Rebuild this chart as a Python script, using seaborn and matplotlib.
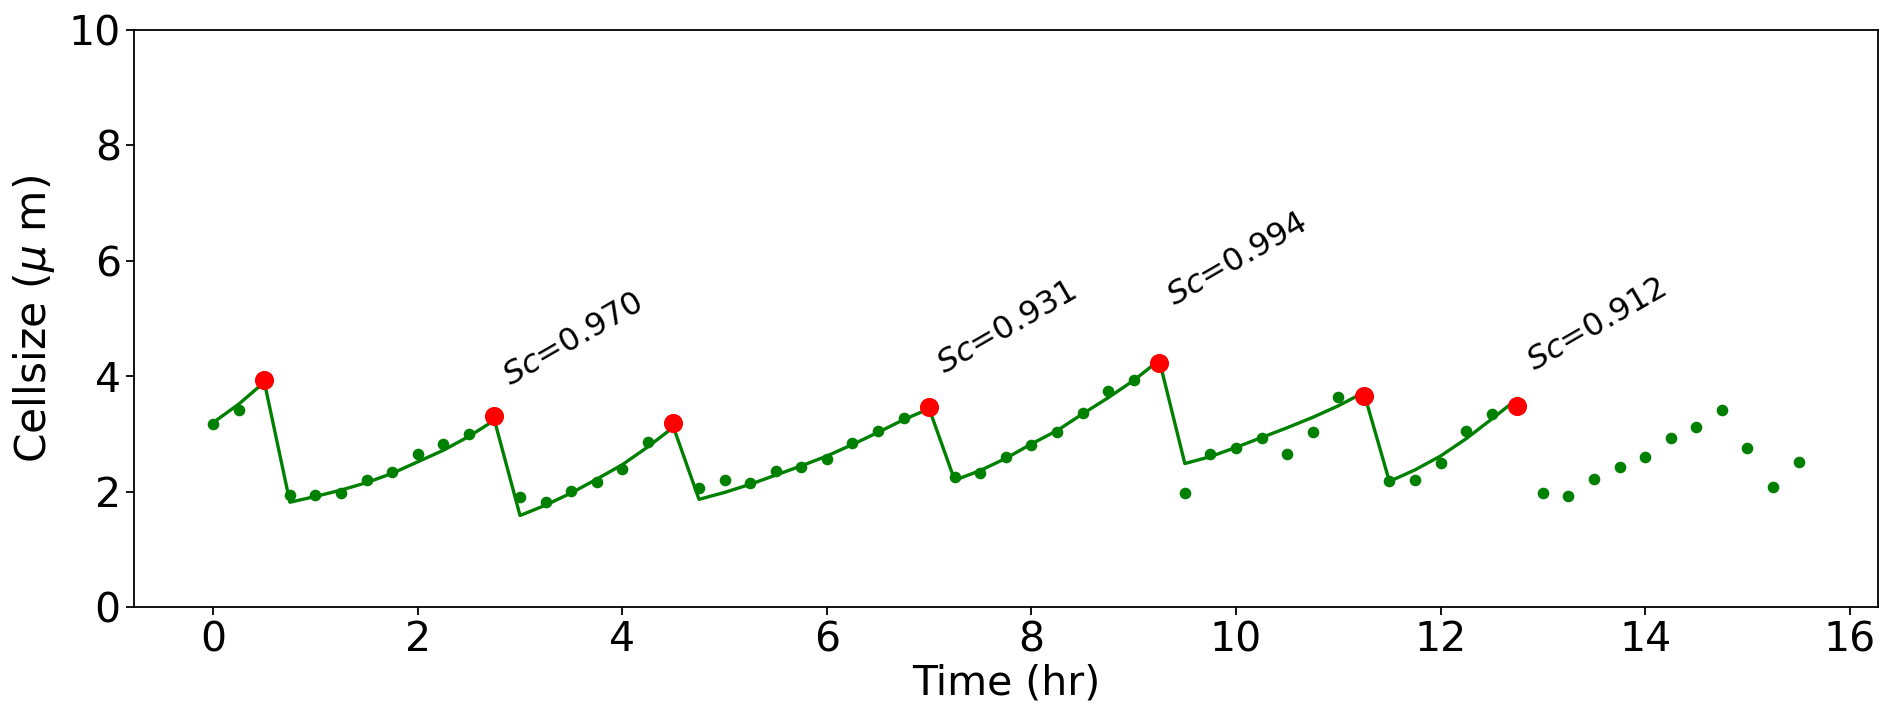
import matplotlib
matplotlib.use("Agg")
import matplotlib.pyplot as plt
import seaborn as sns
import pandas as pd

# measured cell size every 15 min (hr)
time_pts = [0.00, 0.25, 0.50, 0.75, 1.00, 1.25, 1.50, 1.75, 2.00, 2.25, 2.50, 2.75,
            3.00, 3.25, 3.50, 3.75, 4.00, 4.25, 4.50, 4.75, 5.00, 5.25, 5.50, 5.75,
            6.00, 6.25, 6.50, 6.75, 7.00, 7.25, 7.50, 7.75, 8.00, 8.25, 8.50, 8.75,
            9.00, 9.25, 9.50, 9.75, 10.00, 10.25, 10.50, 10.75, 11.00, 11.25, 11.50, 11.75,
            12.00, 12.25, 12.50, 12.75, 13.00, 13.25, 13.50, 13.75, 14.00, 14.25, 14.50, 14.75,
            15.00, 15.25, 15.50]
cell_size = [3.18, 3.42, 3.94, 1.94, 1.95, 1.98, 2.20, 2.35, 2.66, 2.82, 3.00, 3.32,
             1.91, 1.82, 2.01, 2.17, 2.40, 2.86, 3.19, 2.06, 2.21, 2.15, 2.36, 2.43,
             2.57, 2.84, 3.06, 3.28, 3.47, 2.25, 2.32, 2.60, 2.81, 3.04, 3.37, 3.75,
             3.94, 4.23, 1.98, 2.66, 2.76, 2.94, 2.66, 3.04, 3.64, 3.66, 2.18, 2.21,
             2.50, 3.06, 3.35, 3.49, 1.98, 1.93, 2.23, 2.43, 2.61, 2.94, 3.12, 3.42,
             2.76, 2.08, 2.51]

# exponential fit per cycle, evaluated on the same time grid (0 .. 12.75)
fit_size = [3.20, 3.52, 3.90,
            1.82, 1.92, 2.03, 2.16, 2.32, 2.52, 2.72, 2.96, 3.24,
            1.59, 1.77, 1.98, 2.22, 2.47, 2.78, 3.12,
            1.87, 1.99, 2.13, 2.29, 2.45, 2.62, 2.82, 3.03, 3.25, 3.44,
            2.20, 2.37, 2.58, 2.83, 3.06, 3.35, 3.63, 3.93, 4.28,
            2.49, 2.61, 2.77, 2.94, 3.11, 3.29, 3.49, 3.72,
            2.18, 2.38, 2.62, 2.92, 3.26, 3.61]

# division events
div_time = [0.5, 2.75, 4.5, 7.0, 9.25, 11.25, 12.75]
div_size = [3.94, 3.32, 3.19, 3.47, 4.23, 3.66, 3.49]

# Sc labels
sc_vals = ["0.970", "0.931", "0.994", "0.912"]
sc_x = [2.78, 7.03, 9.28, 12.80]
sc_y = [3.73, 3.93, 5.11, 3.98]

df = pd.DataFrame({"Time": time_pts, "Size": cell_size})
df_fit = pd.DataFrame({"Time": time_pts[:len(fit_size)], "Size": fit_size})
df_div = pd.DataFrame({"Time": div_time, "Size": div_size})

fig = plt.figure(figsize=(19, 7.28), dpi=100)
ax = fig.add_axes([0.0705, 0.1658, 0.9178, 0.793])

sns.lineplot(data=df_fit, x="Time", y="Size", color="green", linewidth=2.4, ax=ax, sort=False)
sns.scatterplot(data=df, x="Time", y="Size", color="green", s=70, linewidth=0, ax=ax, zorder=3)
sns.scatterplot(data=df_div, x="Time", y="Size", color="red", s=190, linewidth=0, ax=ax, zorder=4)

for v, tx, ty in zip(sc_vals, sc_x, sc_y):
    ax.text(tx, ty, r"$Sc$=" + v, rotation=30, fontsize=23, ha="left", va="bottom")

ax.set_ylim(0, 10)
ax.set_xlim(-0.775, 16.275)
ax.set_xticks([0, 2, 4, 6, 8, 10, 12, 14, 16])
ax.set_yticks([0, 2, 4, 6, 8, 10])
ax.tick_params(labelsize=29.5, width=1.3, length=6)
for s in ax.spines.values():
    s.set_linewidth(1.3)
ax.set_xlabel("Time (hr)", fontsize=29.5, labelpad=2)
ax.set_ylabel(r"Cellsize ($\mu$ m)", fontsize=30.5, labelpad=8)

plt.savefig("out.png", dpi=100)
plt.close()
